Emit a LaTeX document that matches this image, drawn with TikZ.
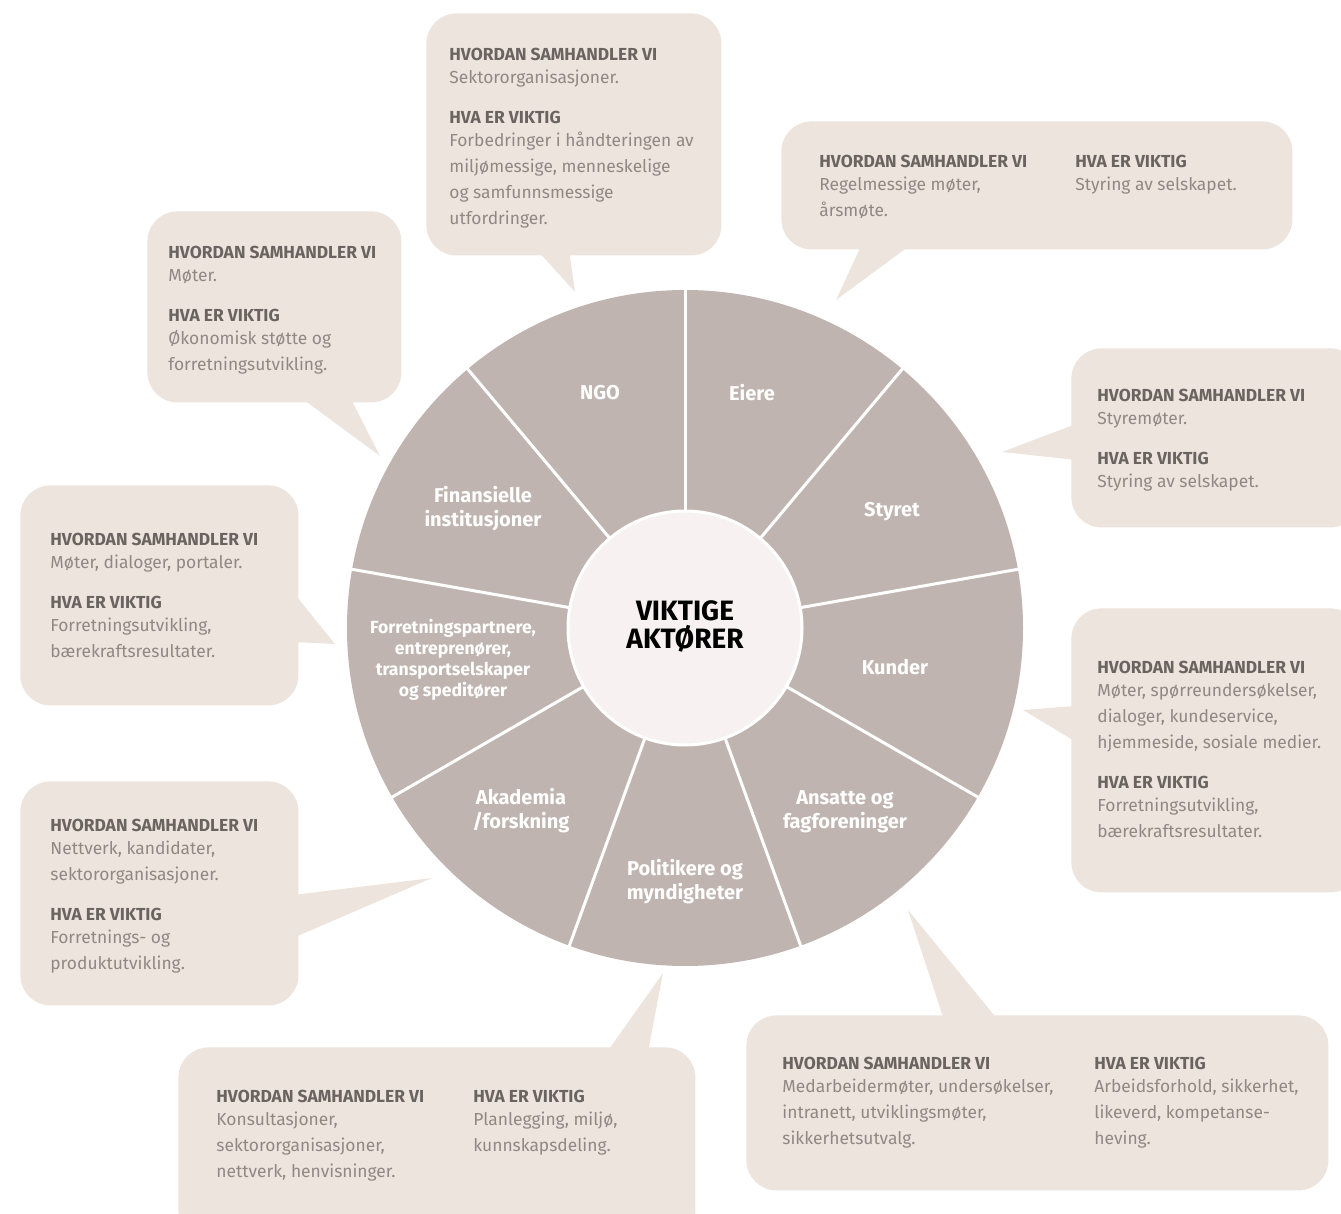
\documentclass[tikz,border=0pt]{standalone}
\usepackage{fontspec}
\setmainfont{Fira Sans}
\usepackage{tikz}
\usetikzlibrary{positioning}

\definecolor{boxc}{HTML}{EDE4DE}
\definecolor{wheelc}{HTML}{BFB4AF}
\definecolor{hubc}{HTML}{F7F2F1}
\definecolor{headc}{HTML}{6B635F}
\definecolor{bodyc}{HTML}{918883}

\newcommand{\hdr}[1]{{\bfseries\color{headc}#1}}

\begin{document}
\begin{tikzpicture}[x=0.5pt, y=0.5pt,
    box/.style = {fill=boxc, rounded corners=15pt, inner sep=0pt, anchor=north west},
    txt/.style = {anchor=north west, inner sep=0pt, align=left, text=bodyc,
                  font=\fontsize{8.7}{13}\selectfont},
    actor/.style = {text=white, align=center, inner sep=0pt,
                    font=\fontsize{10}{12}\selectfont\bfseries},
    hub/.style = {circle, fill=hubc, draw=white, line width=1.5pt, minimum size=117pt,
                  align=center, font=\fontsize{14}{16}\selectfont\bfseries}]
    \useasboundingbox (0,0) rectangle (1341,-1214);

    % wheel
    \coordinate (hub) at (685,-628);
    \fill[wheelc] (hub) circle (338);
    \foreach \a in {90,50,10,-30,-70,-110,-150,-190,-230}
      \draw[white, line width=1.5pt] ([shift={(\a:110)}]hub) -- ([shift={(\a:342)}]hub);
    \node[hub] (hubnode) at (hub) {\raisebox{3pt}{\begin{tabular}{@{}c@{}}VIKTIGE\\[-2pt]AKTØRER\end{tabular}}};

    \node[actor] (ngo) at (600,-393) {NGO};
    \node[actor] (eiere) at (752,-393) {Eiere};
    \node[actor] (styret) at (892,-512) {Styret};
    \node[actor] (kunder) at (895,-667) {Kunder};
    \node[actor] (ansatte) at (845,-812) {Ansatte og\\fagforeninger};
    \node[actor] (politikere) at (685,-882) {Politikere og\\myndigheter};
    \node[actor] (akademia) at (521,-811) {Akademia\\/forskning};
    \node[actor, font=\fontsize{8.8}{10.6}\selectfont\bfseries] (partnere) at (453,-660)
      {Forretningspartnere,\\entreprenører,\\transportselskaper\\og speditører};
    \node[actor] (finans) at (483,-509) {Finansielle\\institusjoner};

    % callout tips
    \coordinate (ngotip) at (575,-292);
    \coordinate (eieretip) at (836,-300);
    \coordinate (styrettip) at (1002,-452);
    \coordinate (kundertip) at (1023,-710);
    \coordinate (ansattetip) at (908,-910);
    \coordinate (politikertip) at (663,-973);
    \coordinate (akademiatip) at (432,-878);
    \coordinate (partneretip) at (335,-644);
    \coordinate (finanstip) at (380,-456);

    % callout boxes
    \node[box, minimum width=147.5pt, minimum height=121pt] (ngobox) at (426,-13) {};
    \node[box, minimum width=255.5pt, minimum height=64pt] (eierebox) at (781,-121) {};
    \node[box, minimum width=144.5pt, minimum height=89.5pt] (styretbox) at (1071,-348) {};
    \node[box, minimum width=144.5pt, minimum height=142pt] (kunderbox) at (1071,-608) {};
    \node[box, minimum width=291pt, minimum height=87.5pt] (ansattebox) at (746,-1015) {};
    \node[box, minimum width=258.5pt, minimum height=96.5pt] (politikerbox) at (178,-1047) {};
    \node[box, minimum width=139pt, minimum height=112pt] (akademiabox) at (20,-781) {};
    \node[box, minimum width=139pt, minimum height=110pt] (partnerebox) at (20,-485) {};
    \node[box, minimum width=127pt, minimum height=95.5pt] (finansbox) at (147,-211) {};

    \fill[boxc] (537,-250) -- (ngotip) -- (569,-250) -- cycle;
    \fill[boxc] (862,-244) -- (eieretip) -- (912,-244) -- cycle;
    \fill[boxc] (1076,-424) -- (styrettip) -- (1076,-460) -- cycle;
    \fill[boxc] (1076,-706) -- (kundertip) -- (1076,-742) -- cycle;
    \fill[boxc] (944,-1020) -- (ansattetip) -- (998,-1020) -- cycle;
    \fill[boxc] (607,-1052) -- (politikertip) -- (648,-1052) -- cycle;
    \fill[boxc] (293,-895) -- (akademiatip) -- (293,-938) -- cycle;
    \fill[boxc] (293,-592) -- (partneretip) -- (293,-642) -- cycle;
    \fill[boxc] (300,-397) -- (finanstip) -- (350,-397) -- cycle;

    % callout texts
    \node[txt] (ngotxt) at (449,-48) {\hdr{HVORDAN SAMHANDLER VI}\\[-1.5pt]
      Sektororganisasjoner.\\[7pt] \hdr{HVA ER VIKTIG}\\[-1.5pt]
      Forbedringer i håndteringen av\\ miljømessige, menneskelige\\
      og samfunnsmessige\\ utfordringer.};
    \node[txt] (eieretxt) at (819,-155) {\hdr{HVORDAN SAMHANDLER VI}\\[-1.5pt]
      Regelmessige møter,\\ årsmøte.};
    \node[txt] (eieretxt2) at (1075,-155) {\hdr{HVA ER VIKTIG}\\[-1.5pt]
      Styring av selskapet.};
    \node[txt] (styrettxt) at (1097,-389) {\hdr{HVORDAN SAMHANDLER VI}\\[-1.5pt]
      Styremøter.\\[7pt] \hdr{HVA ER VIKTIG}\\[-1.5pt] Styring av selskapet.};
    \node[txt] (kundertxt) at (1097,-661) {\hdr{HVORDAN SAMHANDLER VI}\\[-1.5pt]
      Møter, spørreundersøkelser,\\ dialoger, kundeservice,\\
      hjemmeside, sosiale medier.\\[7pt] \hdr{HVA ER VIKTIG}\\[-1.5pt]
      Forretningsutvikling,\\ bærekraftsresultater.};
    \node[txt] (ansattetxt) at (782,-1057) {\hdr{HVORDAN SAMHANDLER VI}\\[-1.5pt]
      Medarbeidermøter, undersøkelser,\\ intranett, utviklingsmøter,\\
      sikkerhetsutvalg.};
    \node[txt] (ansattetxt2) at (1094,-1057) {\hdr{HVA ER VIKTIG}\\[-1.5pt]
      Arbeidsforhold, sikkerhet,\\ likeverd, kompetanse-\\ heving.};
    \node[txt] (politikertxt) at (216,-1090) {\hdr{HVORDAN SAMHANDLER VI}\\[-1.5pt]
      Konsultasjoner,\\ sektororganisasjoner,\\ nettverk, henvisninger.};
    \node[txt] (politikertxt2) at (473,-1090) {\hdr{HVA ER VIKTIG}\\[-1.5pt]
      Planlegging, miljø,\\ kunnskapsdeling.};
    \node[txt] (akademiatxt) at (50,-819) {\hdr{HVORDAN SAMHANDLER VI}\\[-1.5pt]
      Nettverk, kandidater,\\ sektororganisasjoner.\\[7pt] \hdr{HVA ER VIKTIG}\\[-1.5pt]
      Forretnings- og\\ produktutvikling.};
    \node[txt] (partneretxt) at (50,-533) {\hdr{HVORDAN SAMHANDLER VI}\\[-1.5pt]
      Møter, dialoger, portaler.\\[7pt] \hdr{HVA ER VIKTIG}\\[-1.5pt]
      Forretningsutvikling,\\ bærekraftsresultater.};
    \node[txt] (finanstxt) at (168,-246) {\hdr{HVORDAN SAMHANDLER VI}\\[-1.5pt]
      Møter.\\[7pt] \hdr{HVA ER VIKTIG}\\[-1.5pt]
      Økonomisk støtte og\\ forretningsutvikling.};
\end{tikzpicture}
\end{document}
